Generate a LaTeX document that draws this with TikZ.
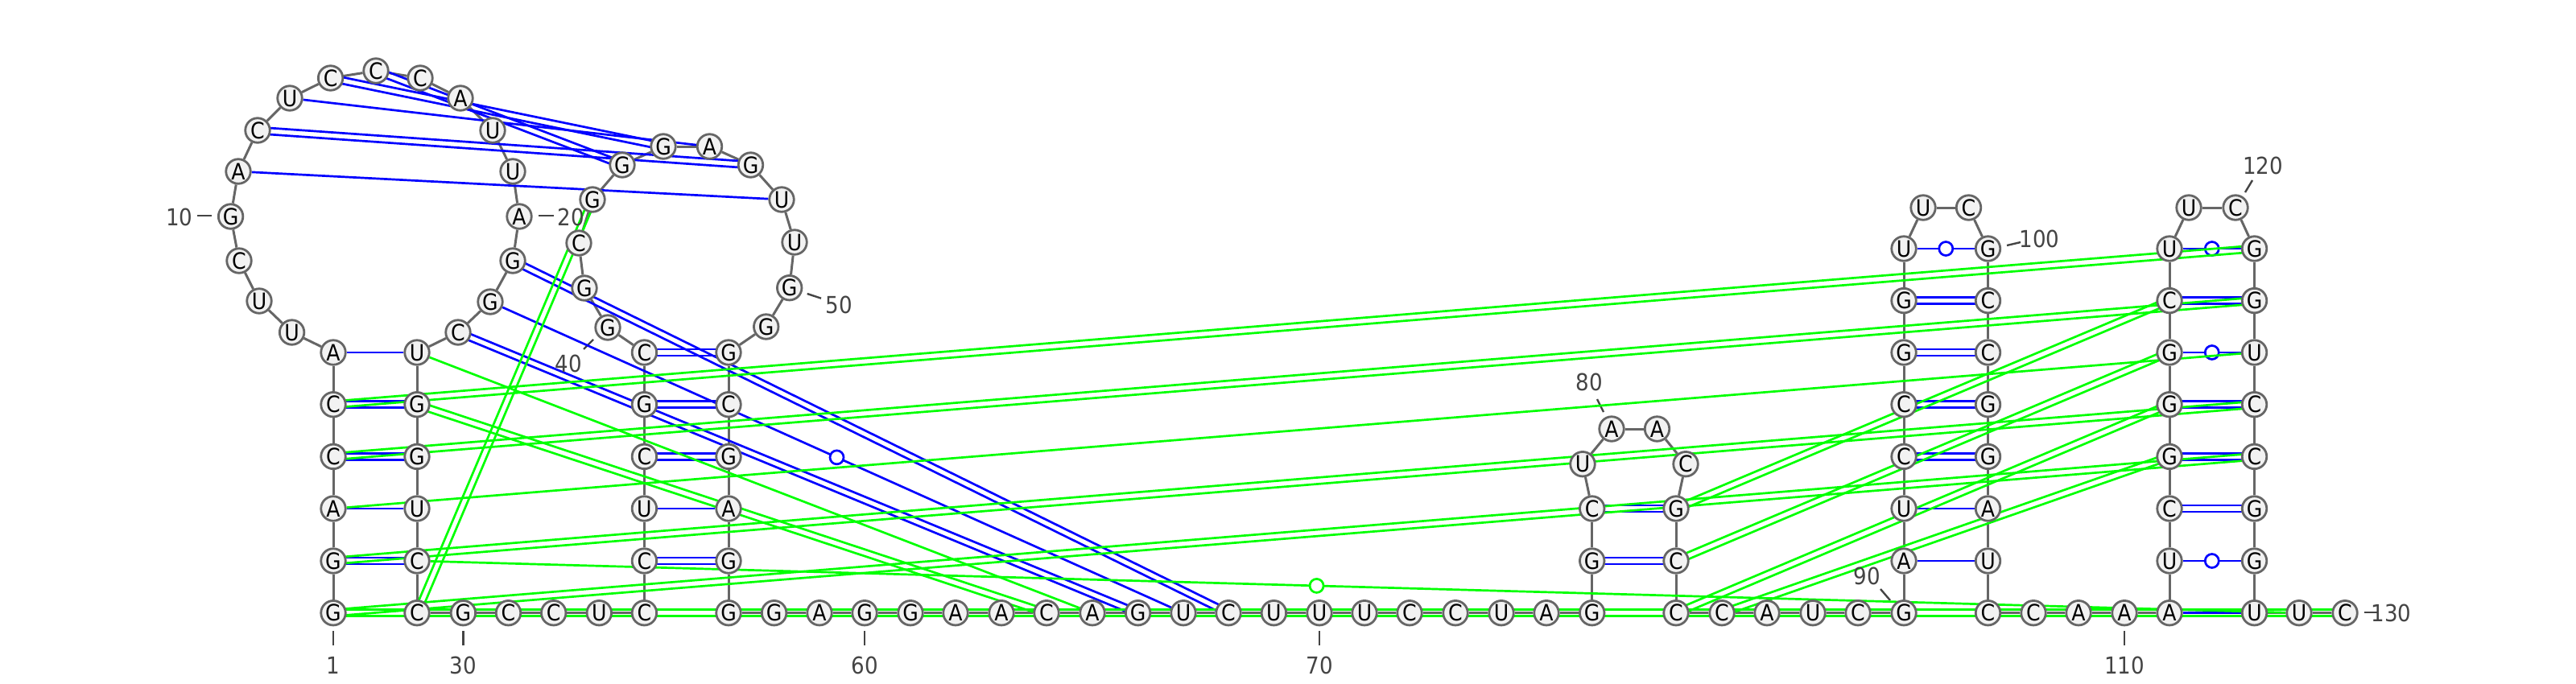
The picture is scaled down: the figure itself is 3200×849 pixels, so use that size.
\documentclass[tikz,border=0pt]{standalone}
\usepackage{fontspec}
\setmainfont{DejaVu Sans Condensed}
\usetikzlibrary{calc}
\pgfdeclarelayer{edges}
\pgfsetlayers{edges,main}
\definecolor{ntgrey}{HTML}{666666}
\definecolor{ntfill}{HTML}{F2F2F2}
\definecolor{lblgrey}{HTML}{444444}
\definecolor{pblue}{RGB}{0,0,255}
\definecolor{pgreen}{RGB}{0,255,0}
\tikzset{
  nt/.style={circle,draw=ntgrey,fill=ntfill,line width=2.8pt,minimum size=30.5pt,inner sep=0pt,text=black,font=\fontsize{28}{28}\selectfont},
  lbl/.style={text=lblgrey,inner sep=0pt,font=\fontsize{29}{29}\selectfont},
  tick/.style={draw=lblgrey,line width=2.4pt},
  bone/.style={draw=ntgrey,line width=3pt},
  pairline/.style={line width=2.7pt},
  gucirc/.style={circle,fill=white,line width=2.7pt,minimum size=17pt,inner sep=0pt},
}
\newcommand{\pairS}[3]{\draw[pairline,#3] (n#1) -- (n#2);}
\newcommand{\pairD}[3]{%
  \draw[pairline,#3] ($(n#1)!4pt!90:(n#2)$) -- ($(n#2)!4pt!-90:(n#1)$);
  \draw[pairline,#3] ($(n#1)!4pt!-90:(n#2)$) -- ($(n#2)!4pt!90:(n#1)$);}
\newcommand{\pairC}[4]{%
  \draw[pairline,#3] (n#1) -- (n#2);
  \node[gucirc,draw=#3] (c#1x#2) at ($(n#1)!#4!(n#2)$) {};}
\begin{document}
\begin{tikzpicture}[x=1pt,y=-1pt]
\useasboundingbox (0,0) rectangle (3200,849);
\foreach \i/\x/\y/\l in {
1/414/761.7/G,2/414/697/G,3/414/632/A,4/414/567.4/C,5/414/502.7/C,6/414/438/A,
7/362.6/413/U,8/322/374/U,9/297/324/C,10/286.6/269/G,11/296/213/A,12/320/162/C,13/360/122/U,
14/410.6/97/C,15/467/88/C,16/522/97/C,17/572/122/A,18/612/162/U,19/637/213/U,20/645/269/A,
21/637/324/G,22/609/375/G,23/569/413/C,
24/518/438/U,25/518/502.7/G,26/518/567.4/G,27/518/632/U,28/518/697/C,29/518/761.7/C,
30/575.4/761.7/G,31/631.5/761.7/C,32/687.7/761.7/C,33/744.3/761.7/U,
34/800.4/761.7/C,35/800.4/697/C,36/800.4/632/U,37/800.4/567.4/C,38/800.4/502.7/G,39/800.4/438/C,
40/755/407/G,41/726/358/G,42/719/302/C,43/736/248/G,44/773/205/G,45/824/182/G,46/881.5/182/A,
47/932.5/205/G,48/971/248/U,49/987/301/U,50/980.7/357.7/G,51/951.7/406/G,
52/905/438/G,53/905/502.7/C,54/905/567.4/G,55/905/632/A,56/905/697/G,57/905/761.7/G,
58/961.6/761.7/G,59/1018/761.7/A,60/1074/761.7/G,61/1131/761.7/G,62/1187/761.7/A,63/1244/761.7/A,
64/1300/761.7/C,65/1357/761.7/A,66/1413.6/761.7/G,67/1470/761.7/U,68/1526/761.7/C,69/1582.4/761.7/U,
70/1639/761.7/U,71/1695/761.7/U,72/1751/761.7/C,73/1808/761.7/C,74/1865/761.7/U,75/1921/761.7/A,
76/1977.7/761.7/G,77/1977.7/697/G,78/1977.7/632/C,79/1966/576.7/U,80/2002/533/A,81/2058.5/533/A,
82/2094/576.7/C,83/2082/632/G,84/2082/697/C,85/2082/761.7/C,
86/2139/761.7/C,87/2195/761.7/A,88/2252/761.7/U,89/2308/761.7/C,
90/2365/761.7/G,91/2365/697/A,92/2365/632/U,93/2365/567.4/C,94/2365/502.7/C,95/2365/438/G,96/2365/373.6/G,97/2365/309/U,
98/2389/258/U,99/2445.5/258/C,
100/2469.5/309/G,101/2469.5/373.6/C,102/2469.5/438/C,103/2469.5/502.7/G,104/2469.5/567.4/G,105/2469.5/632/A,106/2469.5/697/U,107/2469.5/761.7/C,
108/2526/761.7/C,109/2582/761.7/A,110/2639/761.7/A,
111/2695/761.7/A,112/2695/697/U,113/2695/632/C,114/2695/567.4/G,115/2695/502.7/G,116/2695/438/G,117/2695/373.6/C,118/2695/309/U,
119/2719/258/U,120/2777/258/C,
121/2800.5/309/G,122/2800.5/373.6/G,123/2800.5/438/U,124/2800.5/502.7/C,125/2800.5/567.4/C,126/2800.5/632/G,127/2800.5/697/G,128/2800.5/761.7/U,
129/2856/761.7/U,130/2913/761.7/C}
  {\node[nt] (n\i) at (\x,\y) {\l};}
% position labels
\foreach \t/\x/\y in {1/414/827,30/575.4/827,60/1074/827,70/1639/827,110/2639/827,130/2970.5/762,
  10/223/270,20/709/270,40/706.5/452,50/1042/379,80/1974/475,90/2319/716,100/2533.5/297,120/2811/206}
  {\node[lbl] (lab\t) at (\x,\y) {\t};}
\begin{pgfonlayer}{edges}
% ticks
\foreach \t/\ax/\ay/\bx/\by in {1/414/784/414/802,30/575.4/784/575.4/802,60/1074/784/1074/802,70/1639/784/1639/802,110/2639/784/2639/802,
  130/2937/761/2953.6/761,10/245/268/263/268,20/669/268/688/268,40/737/422/725/434,50/1002.7/365/1020/370.7,
  80/1984/496/1992/512,90/2336/732/2348/746,100/2493/305/2510/301,120/2798/224/2789/239}{
  \coordinate (ta\t) at (\ax,\ay);
  \coordinate (tb\t) at (\bx,\by);
  \draw[tick] (ta\t) -- (tb\t);
}
% backbone
\foreach \i in {1,...,129}{
  \pgfmathtruncatemacro{\j}{\i+1}
  \draw[bone] (n\i) -- (n\j);
}
% blue pairs
\pairD{1}{29}{pblue}\pairD{2}{28}{pblue}\pairS{3}{27}{pblue}\pairD{4}{26}{pblue}\pairD{5}{25}{pblue}\pairS{6}{24}{pblue}
\pairS{11}{48}{pblue}\pairD{12}{47}{pblue}\pairS{13}{46}{pblue}\pairD{14}{45}{pblue}\pairD{15}{44}{pblue}
\pairD{21}{68}{pblue}\pairC{22}{67}{pblue}{.5}\pairD{23}{66}{pblue}
\pairD{34}{57}{pblue}\pairD{35}{56}{pblue}\pairS{36}{55}{pblue}\pairD{37}{54}{pblue}\pairD{38}{53}{pblue}\pairD{39}{52}{pblue}
\pairD{76}{85}{pblue}\pairD{77}{84}{pblue}\pairD{78}{83}{pblue}
\pairD{90}{107}{pblue}\pairS{91}{106}{pblue}\pairS{92}{105}{pblue}\pairD{93}{104}{pblue}\pairD{94}{103}{pblue}\pairD{95}{102}{pblue}\pairD{96}{101}{pblue}\pairC{97}{100}{pblue}{.5}
\pairS{111}{128}{pblue}\pairC{112}{127}{pblue}{.5}\pairD{113}{126}{pblue}\pairD{114}{125}{pblue}\pairD{115}{124}{pblue}\pairC{116}{123}{pblue}{.5}\pairD{117}{122}{pblue}\pairC{118}{121}{pblue}{.5}
% green pairs
\pairD{1}{125}{pgreen}\pairD{2}{124}{pgreen}\pairS{3}{123}{pgreen}\pairD{4}{122}{pgreen}\pairD{5}{121}{pgreen}
\pairS{24}{65}{pgreen}\pairD{25}{64}{pgreen}\pairD{29}{43}{pgreen}
\pairC{28}{129}{pgreen}{.478}
\pairD{83}{117}{pgreen}\pairD{84}{116}{pgreen}\pairD{85}{115}{pgreen}\pairD{86}{114}{pgreen}
\pairD{1}{130}{pgreen}
\end{pgfonlayer}
\end{tikzpicture}
\end{document}
